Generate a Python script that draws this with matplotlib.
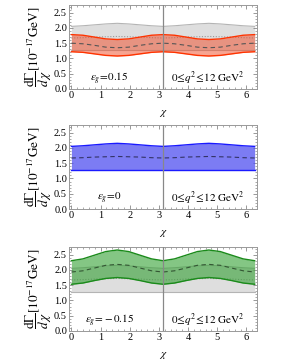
import numpy as np
import matplotlib
matplotlib.use("Agg")
import matplotlib.pyplot as plt
from matplotlib.ticker import MultipleLocator

plt.rcParams["font.family"] = ["Liberation Serif", "DejaVu Serif"]
plt.rcParams["mathtext.fontset"] = "stix"

# chi sampled every pi/8 from 0 to 2 pi
chi = np.arange(17) * np.pi / 8

# eps_g = 0 band (also shown in grey behind the other panels)
zero_lo = [1.27, 1.27, 1.27, 1.27, 1.27, 1.27, 1.27, 1.27, 1.27, 1.27, 1.27, 1.27, 1.27, 1.27, 1.27, 1.27, 1.27]
zero_hi = [2.05, 2.07, 2.10, 2.13, 2.15, 2.13, 2.10, 2.07, 2.05, 2.07, 2.10, 2.13, 2.15, 2.13, 2.10, 2.07, 2.05]
zero_mid = [1.67, 1.68, 1.70, 1.71, 1.72, 1.71, 1.70, 1.68, 1.67, 1.68, 1.70, 1.71, 1.72, 1.71, 1.70, 1.68, 1.67]

# eps_g = 0.15
pos_lo = [1.22, 1.20, 1.15, 1.10, 1.08, 1.10, 1.15, 1.20, 1.22, 1.20, 1.15, 1.10, 1.08, 1.10, 1.15, 1.20, 1.22]
pos_hi = [1.78, 1.76, 1.70, 1.64, 1.62, 1.64, 1.70, 1.76, 1.78, 1.76, 1.70, 1.64, 1.62, 1.64, 1.70, 1.76, 1.78]
pos_mid = [1.50, 1.48, 1.43, 1.37, 1.35, 1.37, 1.43, 1.48, 1.50, 1.48, 1.43, 1.37, 1.35, 1.37, 1.43, 1.48, 1.50]

# eps_g = -0.15
neg_lo = [1.53, 1.57, 1.65, 1.72, 1.75, 1.72, 1.65, 1.57, 1.53, 1.57, 1.65, 1.72, 1.75, 1.72, 1.65, 1.57, 1.53]
neg_hi = [2.30, 2.36, 2.48, 2.60, 2.65, 2.60, 2.48, 2.36, 2.30, 2.36, 2.48, 2.60, 2.65, 2.60, 2.48, 2.36, 2.30]
neg_mid = [1.93, 1.97, 2.06, 2.15, 2.18, 2.15, 2.06, 1.97, 1.93, 1.97, 2.06, 2.15, 2.18, 2.15, 2.06, 1.97, 1.93]

eps_labels = [r"$\epsilon_g\!=\!0.15$", r"$\epsilon_g\!=\!0$", r"$\epsilon_g\!=\!-0.15$"]
q2_label = r"$0\!\leq\!q^2\!\leq\!12\ \mathrm{GeV}^2$"

fig = plt.figure(figsize=(2.82, 3.64), dpi=100)
bottoms = [0.7555, 0.4258, 0.0907]
axes = [fig.add_axes([0.245, b, 0.667, 0.2308]) for b in bottoms]

grey_fill = "#dedede"
grey_edge = "#b4b4b4"

def grey_band(ax):
    ax.fill_between(chi, zero_lo, zero_hi, color=grey_fill, lw=0, zorder=1)
    ax.plot(chi, zero_hi, color=grey_edge, lw=0.8, zorder=2)
    ax.plot(chi, zero_lo, color=grey_edge, lw=0.8, zorder=2)
    ax.plot(chi, zero_mid, color="#999999", lw=0.8, ls=(0, (1, 1.5)), zorder=2)

# panel 1
ax = axes[0]
grey_band(ax)
ax.fill_between(chi, pos_lo, pos_hi, color="#f04a25", alpha=0.5, lw=0, zorder=3)
ax.plot(chi, pos_hi, color="#ff3300", lw=1.0, zorder=4)
ax.plot(chi, pos_lo, color="#ff3300", lw=1.0, zorder=4)
ax.plot(chi, pos_mid, color="#555555", lw=0.8, ls=(0, (4, 3)), zorder=4)

# panel 2
ax = axes[1]
ax.fill_between(chi, zero_lo, zero_hi, color="#5050f0", alpha=0.75, lw=0, zorder=3)
ax.plot(chi, zero_hi, color="#1a1aff", lw=1.0, zorder=4)
ax.plot(chi, zero_lo, color="#1a1aff", lw=1.0, zorder=4)
ax.plot(chi, zero_mid, color="#333366", lw=0.8, ls=(0, (4, 3)), zorder=4)

# panel 3
ax = axes[2]
grey_band(ax)
ax.fill_between(chi, neg_lo, neg_hi, color="#33a033", alpha=0.6, lw=0, zorder=3)
ax.plot(chi, neg_hi, color="#1a8a1a", lw=1.0, zorder=4)
ax.plot(chi, neg_lo, color="#1a8a1a", lw=1.0, zorder=4)
ax.plot(chi, neg_mid, color="#335533", lw=0.8, ls=(0, (4, 3)), zorder=4)

for ax, lab in zip(axes, eps_labels):
    ax.axvline(np.pi, color="#888888", lw=0.9, zorder=5)
    ax.set_xlim(-0.08, 6.37)
    ax.set_ylim(0, 2.75)
    ax.xaxis.set_major_locator(MultipleLocator(1))
    ax.xaxis.set_minor_locator(MultipleLocator(0.2))
    ax.yaxis.set_major_locator(MultipleLocator(0.5))
    ax.yaxis.set_minor_locator(MultipleLocator(0.1))
    ax.yaxis.set_major_formatter(matplotlib.ticker.FormatStrFormatter("%.1f"))
    ax.tick_params(which="both", direction="in", top=True, right=True,
                   labelsize=7.5, color="#888888", pad=1.5)
    ax.tick_params(which="major", length=3, width=0.6)
    ax.tick_params(which="minor", length=1.5, width=0.5)
    for s in ax.spines.values():
        s.set_color("#999999")
        s.set_linewidth(0.7)
    ax.set_xlabel(r"$\chi$", fontsize=8, labelpad=6)
    ax.set_ylabel(r"$\dfrac{\mathrm{d}\Gamma}{d\,\chi}[10^{-17}\mathrm{GeV}]$", fontsize=9.5, labelpad=0)
    ax.text(1.31, 0.34, lab, fontsize=8, ha="center", va="center", zorder=6)
    ax.text(4.68, 0.34, q2_label, fontsize=8, ha="center", va="center", zorder=6)

fig.savefig("out.png", dpi=100)
